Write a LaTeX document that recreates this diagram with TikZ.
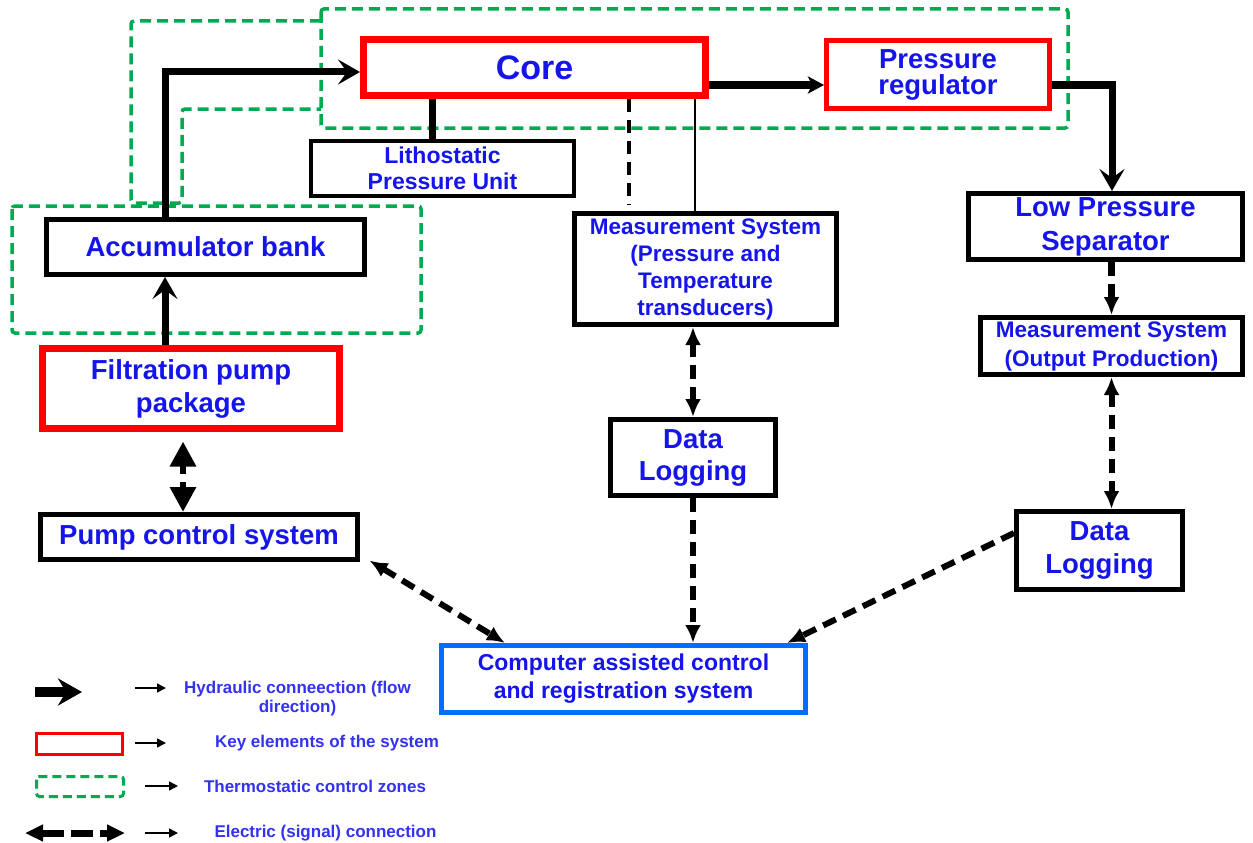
\documentclass[tikz,border=0pt]{standalone}
\usepackage{fontspec}
\setmainfont{Liberation Sans}
\usetikzlibrary{arrows.meta,calc}
\definecolor{txtblue}{RGB}{20,20,235}
\definecolor{legblue}{RGB}{50,50,240}
\definecolor{zonegreen}{RGB}{0,170,80}
\definecolor{keyred}{RGB}{255,0,0}
\definecolor{compblue}{RGB}{0,110,255}
\newcommand\szCore{\fontsize{34}{40}\selectfont\bfseries}
\newcommand\szBig{\fontsize{27.5}{33}\selectfont\bfseries}
\newcommand\szReg{\fontsize{27.5}{26}\selectfont\bfseries}
\newcommand\szMed{\fontsize{22.5}{27}\selectfont\bfseries}
\newcommand\szLeg{\fontsize{17}{19}\selectfont\bfseries}
\begin{document}
\begin{tikzpicture}[x=1pt,y=-1pt,
  box/.style={draw=black,line width=5pt,fill=white,inner sep=0pt,align=center,text=txtblue},
  keybox/.style={box,draw=keyred,line width=7pt},
  zone/.style={draw=zonegreen,line width=3.5pt,dash pattern=on 11pt off 6pt,rounded corners=3pt},
  hyd/.style={line width=7pt,-{Stealth[length=22pt,width=25pt,inset=9pt]}},
  hydsmall/.style={line width=7pt,-{Stealth[length=16pt,width=17pt,inset=4pt]}},
  sig/.style={line width=6pt,dash pattern=on 14pt off 8pt},
  legtext/.style={text=legblue,font=\szLeg,inner sep=0pt,align=center},
  thinarrow/.style={line width=1.5pt,-{Triangle[length=9pt,width=9pt]}}
]
\useasboundingbox (0,0) rectangle (1253,843);

% thermostatic zones
\draw[zone] (321,9) rectangle (1068,128);
\draw[zone] (12,206) rectangle (421,333);
\draw[zone] (321,21) -- (131,21) -- (131,203) -- (182,203) -- (182,109) -- (321,109);

% nodes
\node[keybox,minimum width=342pt,minimum height=56pt,font=\szCore] (core) at (534.5,67.5) {Core};
\node[keybox,line width=5pt,minimum width=223pt,minimum height=68pt,font=\szReg] (preg) at (938,74.5) {Pressure\\regulator};
\node[box,line width=4pt,minimum width=263pt,minimum height=55pt,font=\fontsize{23}{26}\selectfont\bfseries] (litho) at (442.5,168) {Lithostatic\\Pressure Unit};
\node[box,minimum width=318pt,minimum height=55pt,font=\szBig] (accum) at (205.5,247) {Accumulator bank};
\node[keybox,minimum width=297pt,minimum height=80pt,font=\szBig] (filt) at (191,388.5) {Filtration pump\\package};
\node[box,minimum width=317pt,minimum height=45pt,font=\szBig] (pump) at (199,537) {Pump control system};
\node[box,minimum width=262pt,minimum height=111pt,font=\szMed] (meas1) at (705.5,269) {Measurement System\\(Pressure and\\Temperature\\transducers)};
\node[box,minimum width=165pt,minimum height=76pt,font=\fontsize{27.5}{32}\selectfont\bfseries] (dl1) at (693,457.5) {Data\\Logging};
\node[box,minimum width=274pt,minimum height=66pt,font=\fontsize{27.5}{34}\selectfont\bfseries] (lps) at (1105.5,226.5) {Low Pressure\\Separator};
\node[box,minimum width=262pt,minimum height=57pt,font=\fontsize{22.5}{29}\selectfont\bfseries] (meas2) at (1111.5,346) {Measurement System\\(Output Production)};
\node[box,minimum width=166pt,minimum height=78pt,font=\fontsize{27.5}{33}\selectfont\bfseries] (dl2) at (1099.5,550.5) {Data\\Logging};
\node[box,draw=compblue,minimum width=364pt,minimum height=67pt,font=\fontsize{23}{28}\selectfont\bfseries] (comp) at (623.5,679) {Computer assisted control\\and registration system};

% hydraulic connections
\draw[hyd] ([xshift=-40.5pt]accum.north) |- ([yshift=-4.5pt]core.west);
\draw[hyd] ([xshift=-26pt]filt.north) -- ([xshift=-40.5pt]accum.south);
\draw[hydsmall] ([yshift=-17.5pt]core.east) -- ([yshift=-10.5pt]preg.west);
\draw[hyd] ([yshift=-10.5pt]preg.east) -| ([xshift=6.5pt]lps.north);
\draw[line width=7pt] ([xshift=-102.5pt]core.south) -- ([xshift=-10.5pt]litho.north);

% core to measurement system
\draw[line width=4pt,dash pattern=on 13pt off 8pt,shorten >=6pt] ([xshift=94.5pt]core.south) -- ([xshift=-76.5pt]meas1.north);
\draw[line width=2pt] ([xshift=160.5pt]core.south) -- ([xshift=-10.5pt]meas1.north);

% signal connections
\draw[sig,{Latex[length=18pt,width=16pt]}-{Latex[length=18pt,width=16pt]}] (dl1.north |- meas1.south) -- (dl1.north);
\draw[sig,-{Latex[length=18pt,width=16pt]}] (dl1.south) -- (dl1.south |- comp.north);
\draw[sig,{Latex[length=18pt,width=16pt]}-{Latex[length=18pt,width=16pt]}] ([xshift=9.5pt,yshift=1.5pt]pump.south east) -- ([xshift=-118.5pt]comp.north);
\draw[sig,-{Latex[length=18pt,width=16pt]}] ([yshift=17.5pt]dl2.west) -- ([xshift=163.5pt]comp.north);
\draw[sig,line width=7pt,-{Latex[length=18pt,width=16pt]}] (meas2.north |- lps.south) -- (meas2.north);
\draw[sig,{Latex[length=18pt,width=16pt]}-{Latex[length=18pt,width=16pt]}] (meas2.south) -- (meas2.south |- dl2.north);
\draw[line width=6pt,dash pattern=on 9pt off 8pt,{Triangle[length=25pt,width=25pt]}-{Triangle[length=25pt,width=25pt]}] ([xshift=-8pt,yshift=-9.5pt]filt.south) -- ([xshift=-16pt]pump.north);

% legend
\draw[line width=10pt,-{Stealth[length=24pt,width=27pt,inset=8pt]}] (35,692) -- (82,692);
\draw[thinarrow] (135,688) -- (166,688);
\node[legtext,font=\szLeg] (leg1) at (297.5,698.5) {Hydraulic conneection (flow\\direction)};
\draw[keyred,line width=3pt] (36.5,733.5) rectangle (122.5,754.5);
\draw[thinarrow] (135,743) -- (166,743);
\node[legtext] (leg2) at (327,743) {Key elements of the system};
\draw[zone,line width=3pt,dash pattern=on 9pt off 5pt] (36.5,776.5) rectangle (123.5,796.5);
\draw[thinarrow] (145,786) -- (178,786);
\node[legtext] (leg3) at (315,786) {Thermostatic control zones};
\draw[line width=7pt,dash pattern=on 22pt off 7pt,{Triangle[length=18pt,width=16pt]}-{Triangle[length=18pt,width=16pt]}] (25,833) -- (125,833);
\draw[thinarrow] (145,833) -- (178,833);
\node[legtext] (leg4) at (325.5,833) {Electric (signal) connection};
\end{tikzpicture}
\end{document}
